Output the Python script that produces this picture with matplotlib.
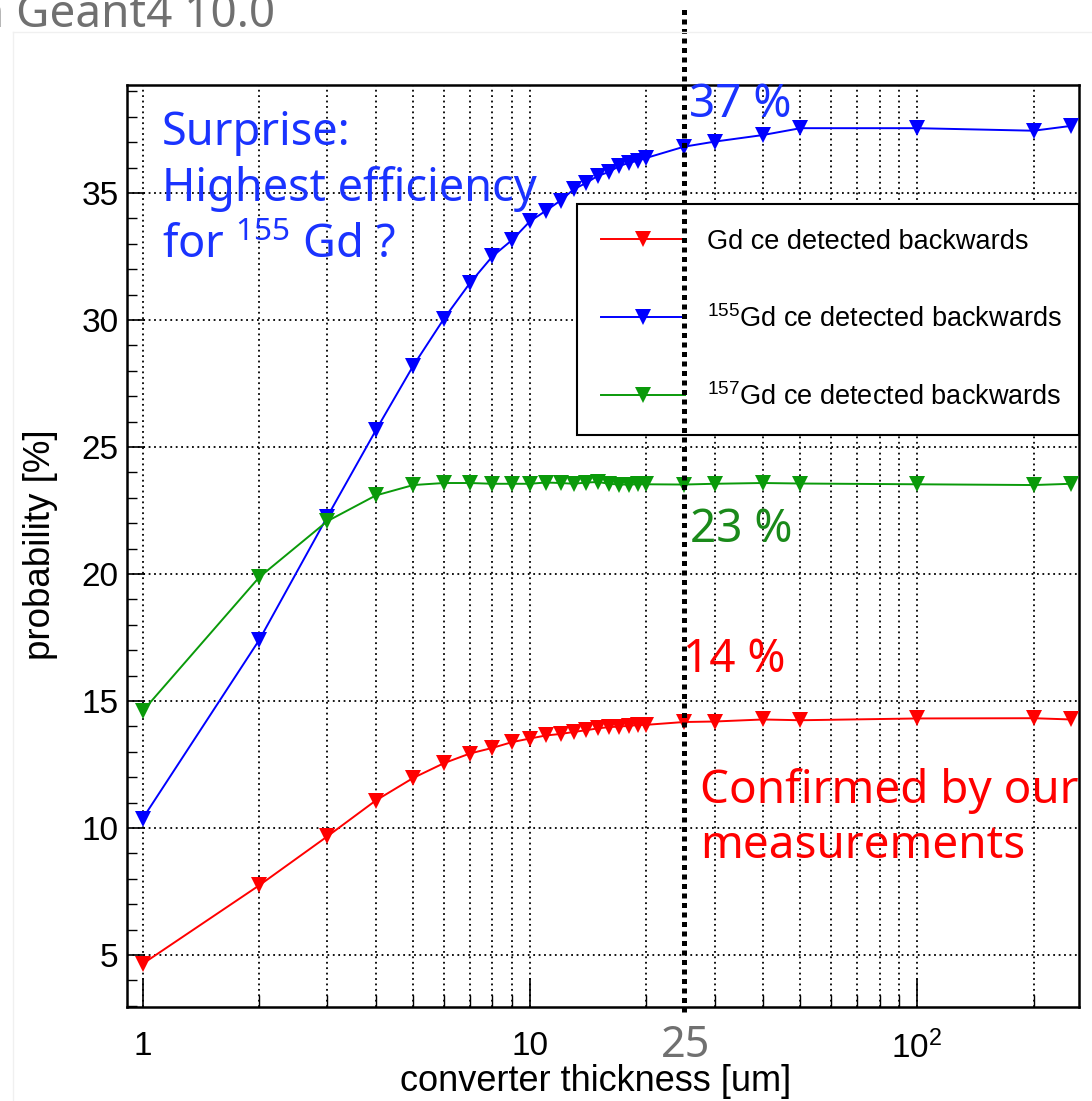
import matplotlib
matplotlib.use("Agg")
import matplotlib.pyplot as plt
from matplotlib.ticker import FixedLocator, MultipleLocator, FixedFormatter, NullFormatter
from matplotlib.lines import Line2D
import matplotlib.transforms as mtransforms

# ---------------- data ----------------
thickness = [1, 2, 3, 4, 5, 6, 7, 8, 9, 10, 11, 12, 13, 14, 15, 16, 17, 18, 19, 20,
             25, 30, 40, 50, 100, 200, 250]
gd_all = [4.65, 7.74, 9.67, 11.08, 11.97, 12.55, 12.93, 13.15, 13.38, 13.52, 13.64, 13.70,
          13.78, 13.85, 13.92, 13.97, 13.99, 14.02, 14.05, 14.06, 14.17, 14.19, 14.27,
          14.24, 14.31, 14.32, 14.27]
gd155 = [10.37, 17.4, 22.26, 25.65, 28.2, 30.05, 31.45, 32.5, 33.15, 33.88, 34.3, 34.7,
         35.15, 35.4, 35.68, 35.82, 36.06, 36.18, 36.27, 36.38, 36.82, 37.02, 37.28,
         37.55, 37.55, 37.45, 37.64]
gd157 = [14.6, 19.87, 22.08, 23.09, 23.5, 23.58, 23.58, 23.55, 23.55, 23.55, 23.6, 23.58,
         23.55, 23.6, 23.62, 23.55, 23.52, 23.52, 23.53, 23.53, 23.52, 23.55, 23.58,
         23.56, 23.53, 23.5, 23.55]
series_labels = ["Gd ce detected backwards",
                 r"$\mathregular{^{155}}$Gd ce detected backwards",
                 r"$\mathregular{^{157}}$Gd ce detected backwards"]
x_major = [1, 10, 100]
x_major_labels = ["1", "10", r"$\mathregular{10^{2}}$"]
x_minor = [2, 3, 4, 5, 6, 7, 8, 9, 20, 30, 40, 50, 60, 70, 80, 90, 200]
y_major = [5, 10, 15, 20, 25, 30, 35]
marked_thickness = 25

# ---------------- style ----------------
plt.rcParams['font.family'] = ['Liberation Sans', 'DejaVu Sans']
W, H = 1092, 1101
fig = plt.figure(figsize=(W / 100, H / 100), dpi=100)
fig.patch.set_facecolor('white')

def fx(px):
    return px / W

def fy(py):
    return 1 - py / H

# faint frame of the embedded picture
fig.add_artist(Line2D([fx(13), 1], [fy(32), fy(32)], color='#f0f0f0', lw=1))
fig.add_artist(Line2D([fx(13), fx(13)], [fy(32), 0], color='#f0f0f0', lw=1))

ax_l, ax_r, ax_t, ax_b = 127, 1079, 85, 1007
ax = fig.add_axes([fx(ax_l), fy(ax_b), (ax_r - ax_l) / W, (ax_b - ax_t) / H])
ax.set_xscale('log')
ax.set_xlim(0.911, 262)
ax.set_ylim(2.95, 39.25)

red, blue, green = '#ff0000', '#0000ff', '#0a9a0a'
for vals, col, lab in [(gd_all, red, series_labels[0]),
                       (gd155, blue, series_labels[1]),
                       (gd157, green, series_labels[2])]:
    ax.plot(thickness, vals, color=col, lw=1.4, marker='v', ms=11,
            markeredgewidth=0, label=lab, zorder=4)

# ticks
ax.xaxis.set_major_locator(FixedLocator(x_major))
ax.xaxis.set_major_formatter(FixedFormatter(x_major_labels))
ax.xaxis.set_minor_locator(FixedLocator(x_minor))
ax.xaxis.set_minor_formatter(NullFormatter())
ax.yaxis.set_major_locator(FixedLocator(y_major))
ax.yaxis.set_minor_locator(MultipleLocator(1))
ax.tick_params(axis='x', which='major', direction='in', length=21, width=1.2,
               labelsize=24, pad=17, top=False)
ax.tick_params(axis='x', which='minor', direction='in', length=9, width=1.0, top=False)
ax.tick_params(axis='y', which='major', direction='in', length=13, width=1.2,
               labelsize=24, pad=6, right=False)
ax.tick_params(axis='y', which='minor', direction='in', length=7, width=1.0, right=False)

# grid
ax.grid(True, which='major', axis='both', color='black', lw=1.3, ls=(0, (1, 2)))
ax.grid(True, which='minor', axis='x', color='black', lw=1.3, ls=(0, (1, 2)))
ax.set_axisbelow(True)
for s in ax.spines.values():
    s.set_linewidth(1.8)

fig.text(fx(596), fy(1091), "converter thickness [um]", ha='center', va='baseline',
         fontsize=26)
ax.set_ylabel("probability [%]", fontsize=26.5)
ax.yaxis.set_label_coords(-0.0725, 0.501)

# legend
lx0 = (577 - ax_l) / (ax_r - ax_l)
ly0 = (ax_b - 435) / (ax_b - ax_t)
leg = ax.legend(loc='lower left', bbox_to_anchor=(lx0, ly0, 1 - lx0, 0.25), mode='expand',
                borderaxespad=0, fontsize=19.5, numpoints=1, handlelength=3.1,
                handletextpad=0.8, borderpad=0.9, labelspacing=1.85, fancybox=False,
                framealpha=1, edgecolor='black')
leg.get_frame().set_linewidth(1.5)
leg.set_zorder(6)

# thick dotted marker line at 25 um
trans = mtransforms.blended_transform_factory(ax.transData, ax.transAxes)
ax.plot([marked_thickness, marked_thickness],
        [(ax_b - 1012) / (ax_b - ax_t), (ax_b - 8) / (ax_b - ax_t)],
        transform=trans, color='black', lw=3.6, ls=(0, (1, 0.9)),
        solid_capstyle='butt', dash_capstyle='butt', clip_on=False, zorder=10)

# slide annotations
afont = ['Noto Sans', 'DejaVu Sans']
tblue, tgreen, gray = '#1a33ff', '#1a8a1a', '#707070'
fig.text(fx(275), fy(27), "in Geant4 10.0", ha='right', va='baseline', fontsize=33,
         color=gray, family=afont)
for txt, yb in [("Surprise:", 145), ("Highest efficiency", 201),
                (r"for $\mathregular{^{155}}$ Gd ?", 258)]:
    fig.text(fx(162), fy(yb), txt, ha='left', va='baseline', fontsize=32.5,
             color=tblue, family=afont, zorder=11)
fig.text(fx(689), fy(117), "37 %", ha='left', va='baseline', fontsize=33,
         color=tblue, family=afont, zorder=11)
fig.text(fx(690), fy(542), "23 %", ha='left', va='baseline', fontsize=33,
         color=tgreen, family=afont, zorder=11)
fig.text(fx(683), fy(672), "14 %", ha='left', va='baseline', fontsize=33,
         color=red, family=afont, zorder=11)
fig.text(fx(700), fy(803), "Confirmed by our", ha='left', va='baseline', fontsize=33,
         color=red, family=afont, zorder=11)
fig.text(fx(700), fy(858), "measurements", ha='left', va='baseline', fontsize=33,
         color=red, family=afont, zorder=11)
fig.text(fx(686), fy(1057), "25", ha='center', va='baseline', fontsize=31,
         color=gray, family=afont, zorder=11)

fig.savefig("out.png", dpi=100)
